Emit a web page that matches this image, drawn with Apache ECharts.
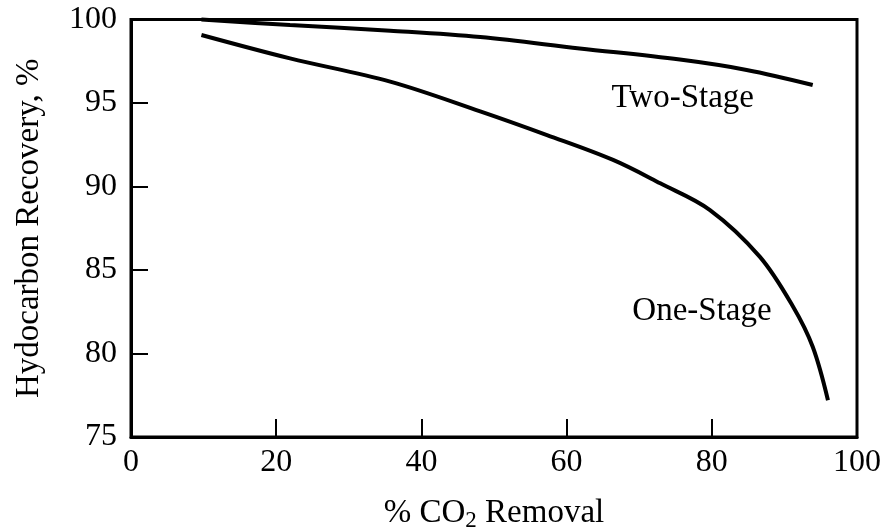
<!DOCTYPE html>
<html>
<head>
<meta charset="utf-8">
<script src="https://cdn.jsdelivr.net/npm/echarts@6/dist/echarts.min.js"></script>
<style>html,body{margin:0;padding:0;background:#fff}#c{width:887px;height:527px}</style>
</head>
<body>
<div id="c"></div>
<script>
// Data
const twoStageX = [9.7, 21.9, 35.7, 48.1, 61.8, 75.6, 84.8, 93.9];
const twoStageY = [100.0, 99.67, 99.33, 98.95, 98.27, 97.6, 96.98, 96.08];
const oneStageX = [9.7, 21.9, 35.7, 48.1, 57.3, 66.4, 72.9, 79.75, 86.6, 91.2, 93.9, 96.0];
const oneStageY = [99.07, 97.67, 96.28, 94.5, 93.08, 91.59, 90.19, 88.59, 85.8, 82.8, 80.4, 77.2];
const seriesNames = ['Two-Stage', 'One-Stage'];
const labelPos = [[76.0, 95.3], [78.65, 82.5]];
const xTicks = [0, 20, 40, 60, 80, 100];
const yTicks = [75, 80, 85, 90, 95, 100];

const font = '"Liberation Serif", "Times New Roman", serif';
const zip = (xs, ys) => xs.map((x, i) => [x, ys[i]]);

const chart = echarts.init(document.getElementById('c'), null, {renderer: 'canvas'});
const mkSeries = (name, data, pos) => ({
  name, type: 'line', data, smooth: 0.35, showSymbol: false, clip: false,
  lineStyle: {color: '#000', width: 4}, silent: true,
  markPoint: {
    symbol: 'circle', symbolSize: 0,
    data: [{coord: pos, value: name}],
    label: {show: true, position: 'inside', formatter: name, color: '#000', fontFamily: font, fontSize: 33}
  }
});
chart.setOption({
  animation: false,
  backgroundColor: '#fff',
  grid: {left: 131, right: 30, top: 19.5, bottom: 90, containLabel: false, outerBoundsMode: 'none',
    show: true, borderColor: '#000', borderWidth: 3, backgroundColor: 'transparent'},
  xAxis: {
    type: 'value', min: xTicks[0], max: xTicks[xTicks.length - 1], interval: 20,
    name: '% CO{sub|2} Removal', nameLocation: 'middle', nameGap: 58,
    nameTextStyle: {color: '#000', fontFamily: font, fontSize: 33, rich: {sub: {fontFamily: font, fontSize: 23, color: '#000', verticalAlign: 'bottom', padding: [14, 0, 0, 0]}}},
    axisLine: {show: true, lineStyle: {color: '#000', width: 3}},
    axisTick: {show: true, inside: true, length: 18, lineStyle: {color: '#000', width: 2}},
    axisLabel: {color: '#000', fontFamily: font, fontSize: 32, margin: 10},
    splitLine: {show: false}
  },
  yAxis: {
    type: 'value', min: yTicks[0], max: yTicks[yTicks.length - 1], interval: 5,
    name: 'Hydocarbon Recovery, %', nameLocation: 'middle', nameGap: 85,
    nameTextStyle: {color: '#000', fontFamily: font, fontSize: 33},
    axisLine: {show: true, lineStyle: {color: '#000', width: 3}},
    axisTick: {show: true, inside: true, length: 17, lineStyle: {color: '#000', width: 2}},
    axisLabel: {color: '#000', fontFamily: font, fontSize: 32, margin: 14},
    splitLine: {show: false}
  },
  series: [
    mkSeries(seriesNames[0], zip(twoStageX, twoStageY), labelPos[0]),
    mkSeries(seriesNames[1], zip(oneStageX, oneStageY), labelPos[1])
  ]
});
</script>
</body>
</html>
